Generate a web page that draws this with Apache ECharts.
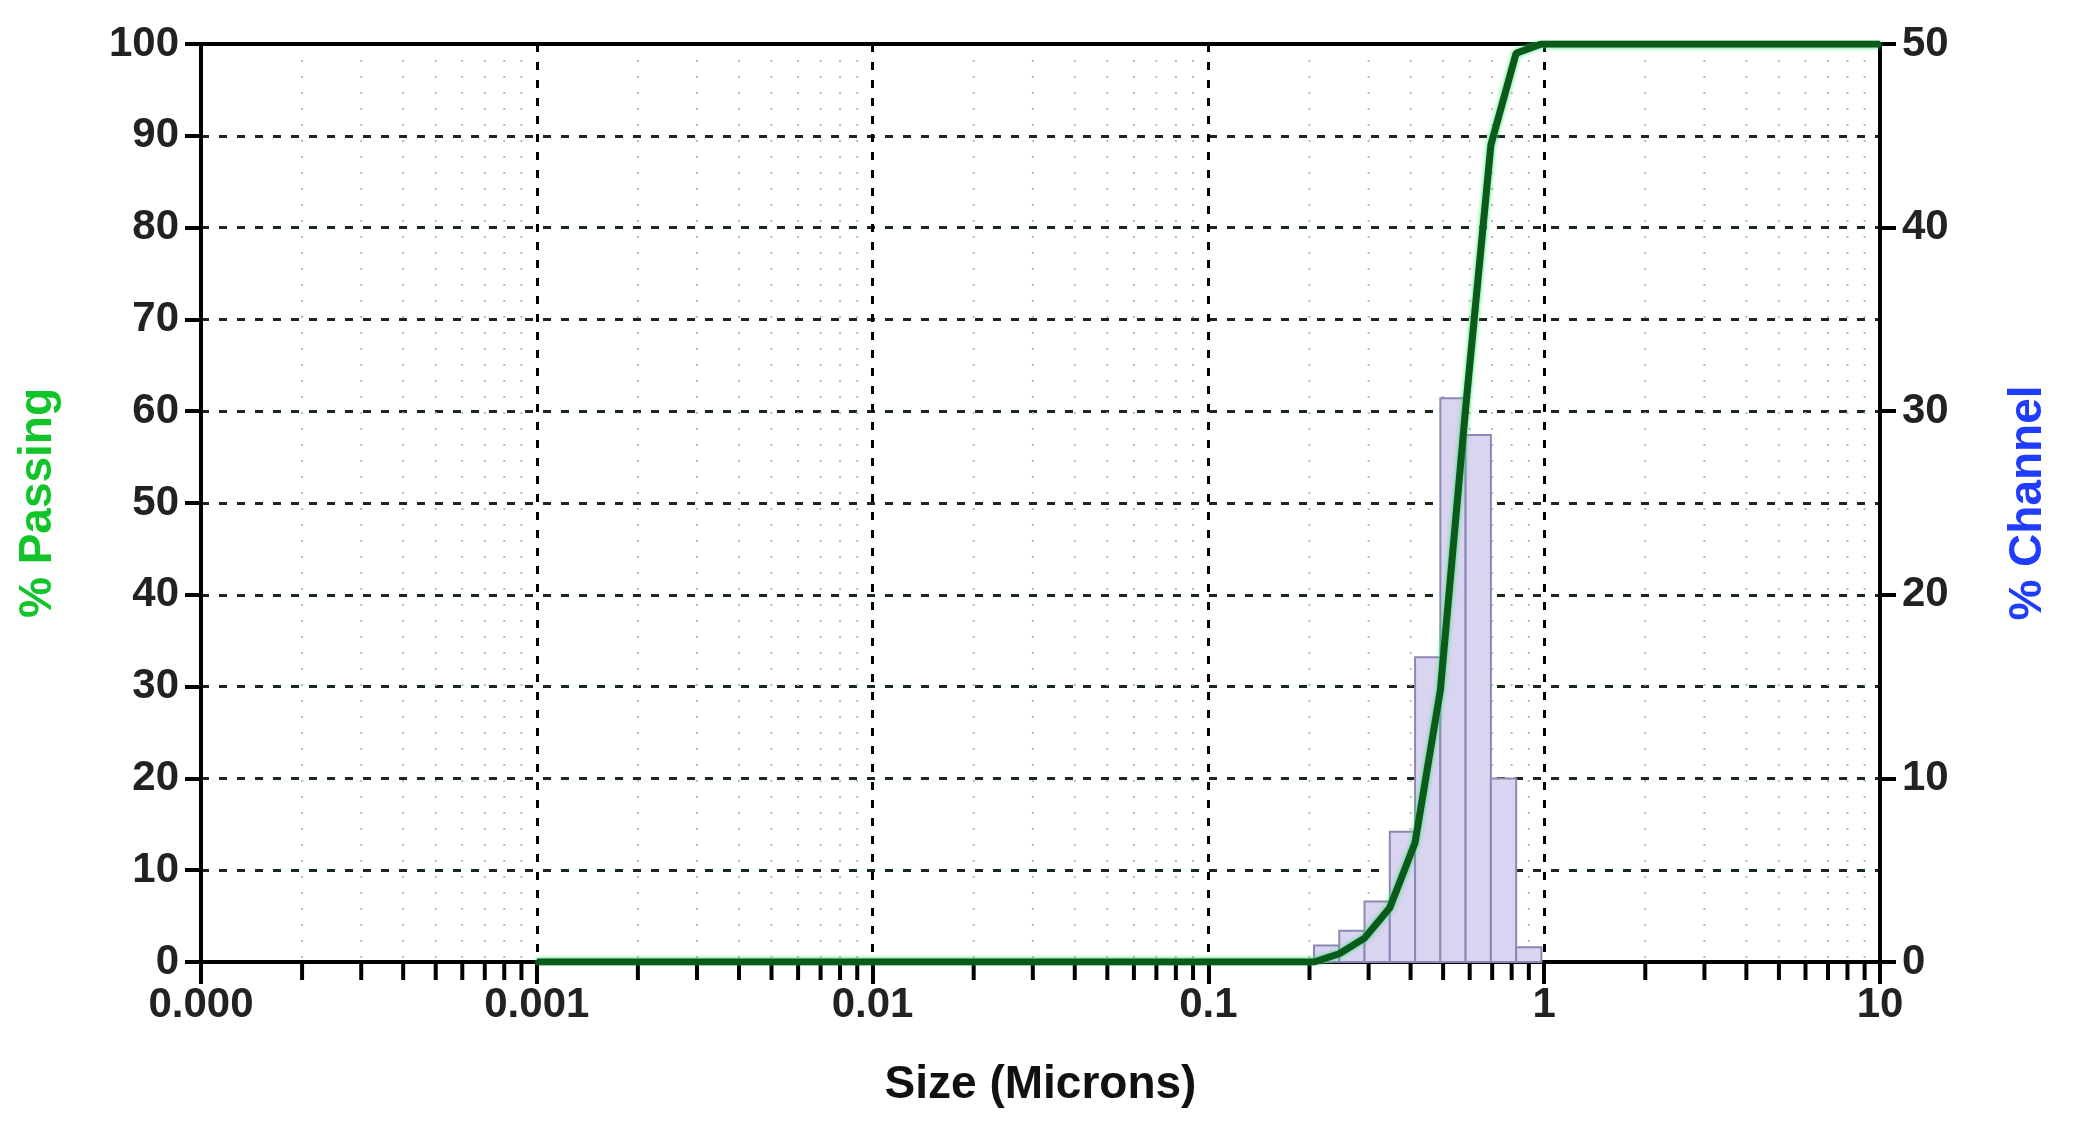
<!DOCTYPE html>
<html>
<head>
<meta charset="utf-8">
<script src="https://cdn.jsdelivr.net/npm/echarts@6/dist/echarts.min.js"></script>
<style>
  html, body { margin: 0; padding: 0; background: #fff; }
  #chart { width: 2073px; height: 1148px; }
</style>
</head>
<body>
<div id="chart"></div>
<script>
// size channel edges (microns) and % per channel
const binEdges = [0.2063, 0.2453, 0.2917, 0.3469, 0.4125, 0.4906, 0.5834, 0.6938, 0.8250, 0.9811]
const channelPct = [0.9, 1.7, 3.3, 7.1, 16.6, 30.7, 28.7, 10.0, 0.8]

// cumulative % passing curve
const passSize = [0.001, 0.2063, 0.2453, 0.2917, 0.3469, 0.4125, 0.4906, 0.5834, 0.6938, 0.8250, 0.9811, 10]
const passPct = [0, 0, 0.9, 2.6, 5.9, 13.0, 29.6, 60.3, 89.0, 99.0, 100, 100]

const decades = [0.0001, 0.001, 0.01, 0.1, 1, 10]
const decadeLabels = ['0.000', '0.001', '0.01', '0.1', '1', '10']
const minorSteps = [2, 3, 4, 5, 6, 7, 8, 9]

const lg = v => Math.log10(v)
const minorTicks = []
decades.slice(0, -1).forEach(d => minorSteps.forEach(m => minorTicks.push(lg(d * m))))

const labelFont = { fontFamily: 'Liberation Sans', fontWeight: 'bold', fontSize: 42, color: '#222' }

const chart = echarts.init(document.getElementById('chart'))
chart.setOption({
  animation: false,
  backgroundColor: '#fff',
  grid: { left: 201, right: 193, top: 44, bottom: 186 },
  xAxis: {
    type: 'value', min: -4, max: 1, interval: 1,
    axisLine: { lineStyle: { color: '#000', width: 4 } },
    axisTick: { length: 22, lineStyle: { color: '#000', width: 4 } },
    axisLabel: Object.assign({}, labelFont, {
      margin: 22,
      formatter: v => decadeLabels[Math.round(v) + 4]
    }),
    splitLine: { show: true, lineStyle: { color: '#000', type: [8, 10], width: 3 } },
    name: 'Size (Microns)', nameLocation: 'middle', nameGap: 100,
    nameTextStyle: { fontFamily: 'Liberation Sans', fontWeight: 'bold', fontSize: 46, color: '#111' }
  },
  yAxis: [
    {
      type: 'value', min: 0, max: 100, interval: 10,
      axisLine: { show: true, onZero: false, lineStyle: { color: '#000', width: 4 } },
      axisTick: { show: true, length: 16, lineStyle: { color: '#000', width: 4 } },
      axisLabel: Object.assign({}, labelFont, { margin: 22 }),
      splitLine: { show: true, lineStyle: { color: '#1a2a1a', type: [8, 10], width: 3 } },
      name: '% Passing', nameLocation: 'middle', nameGap: 140, nameRotate: 90,
      nameTextStyle: { fontFamily: 'Liberation Sans', fontWeight: 'bold', fontSize: 46, color: '#11c42a' }
    },
    {
      type: 'value', min: 0, max: 50, interval: 10, position: 'right',
      axisLine: { show: true, onZero: false, lineStyle: { color: '#000', width: 4 } },
      axisTick: { show: true, length: 16, lineStyle: { color: '#000', width: 4 } },
      axisLabel: Object.assign({}, labelFont, { margin: 22 }),
      splitLine: { show: false },
      name: '% Channel', nameLocation: 'middle', nameGap: 125, nameRotate: 90,
      nameTextStyle: { fontFamily: 'Liberation Sans', fontWeight: 'bold', fontSize: 46, color: '#1f3cff' }
    }
  ],
  series: [
    {
      // minor log grid lines and ticks
      type: 'custom', silent: true, z: 1, clip: false,
      data: minorTicks.map(v => [v]),
      renderItem: (params, api) => {
        const top = api.coord([api.value(0), 100])
        const bot = api.coord([api.value(0), 0])
        return {
          type: 'group', children: [
            { type: 'line', shape: { x1: top[0], y1: top[1], x2: bot[0], y2: bot[1] },
              style: { stroke: '#b8b8b8', lineWidth: 2, lineDash: [2, 14] } },
            { type: 'line', shape: { x1: bot[0], y1: bot[1], x2: bot[0], y2: bot[1] + 18 },
              style: { stroke: '#000', lineWidth: 4 } }
          ]
        }
      }
    },
    {
      // top frame
      type: 'custom', silent: true, z: 2, clip: false,
      data: [[-4]],
      renderItem: (params, api) => {
        const a = api.coord([-4, 100]), b = api.coord([1, 100])
        return { type: 'line', shape: { x1: a[0], y1: a[1], x2: b[0], y2: b[1] },
          style: { stroke: '#000', lineWidth: 4 } }
      }
    },
    {
      name: '% Channel', type: 'custom', yAxisIndex: 1, z: 3,
      data: channelPct.map((p, i) => [lg(binEdges[i]), lg(binEdges[i + 1]), p]),
      renderItem: (params, api) => {
        const p0 = api.coord([api.value(0), api.value(2)])
        const p1 = api.coord([api.value(1), 0])
        return {
          type: 'rect',
          shape: { x: p0[0], y: p0[1], width: p1[0] - p0[0], height: p1[1] - p0[1] },
          style: { fill: '#d9d4f0', stroke: '#8c88b4', lineWidth: 2 }
        }
      }
    },
    {
      name: '% Passing', type: 'line', z: 5, showSymbol: false,
      data: passSize.map((s, i) => [lg(s), passPct[i]]),
      lineStyle: { color: '#0b5a1a', width: 7, shadowColor: '#30e070', shadowBlur: 4 }
    }
  ]
})
</script>
</body>
</html>
